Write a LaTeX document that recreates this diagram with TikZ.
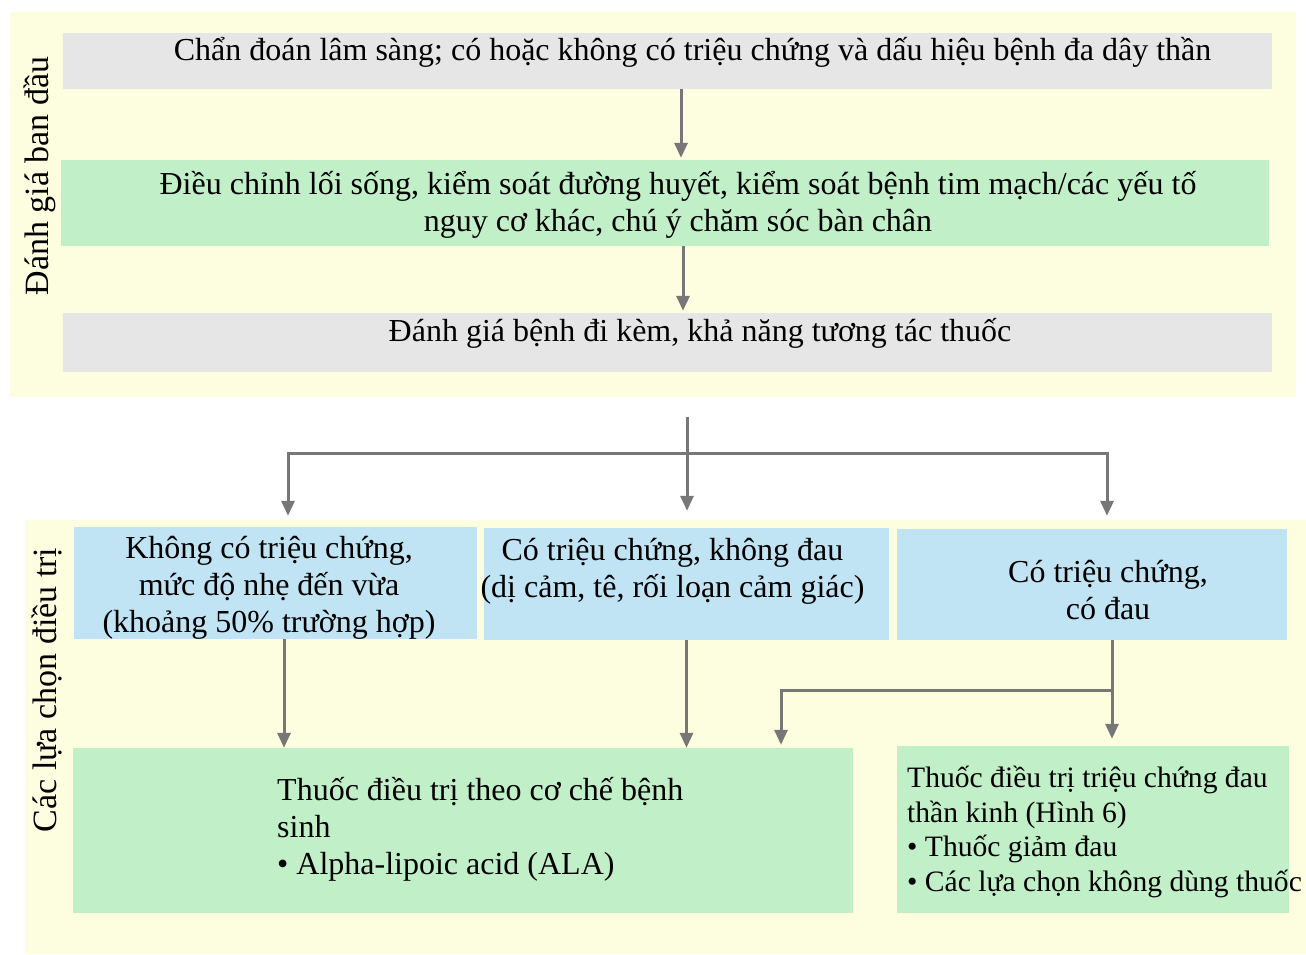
\documentclass[tikz,border=0pt]{standalone}
\usepackage{fontspec}
\setmainfont{Liberation Serif}
\usetikzlibrary{arrows.meta}
\definecolor{panelc}{HTML}{FDFDDF}
\definecolor{grayc}{HTML}{E6E6E6}
\definecolor{greenc}{HTML}{C1F0C8}
\definecolor{bluec}{HTML}{C0E4F4}
\definecolor{linec}{HTML}{777777}
\tikzset{
  panel/.style={fill=panelc, draw=none},
  box/.style={draw=none, inner sep=0pt, rectangle},
  txt/.style={inner sep=0pt, font=\fontsize{32}{37}\selectfont, align=center},
  txtl/.style={inner sep=0pt, font=\fontsize{32}{37}\selectfont, align=left},
  txte/.style={inner sep=0pt, font=\fontsize{29.6}{34.5}\selectfont, align=left},
  side/.style={inner sep=0pt, font=\fontsize{34}{40}\selectfont, rotate=90, anchor=base},
  conn/.style={draw=linec, line width=3pt},
  arr/.style={conn, -{Triangle[length=15pt, width=13pt]}},
}
\begin{document}
\begin{tikzpicture}[x=1pt, y=-1pt]
\useasboundingbox (0,0) rectangle (1306,954);
\fill[white] (0,0) rectangle (1306,954);
% panels
\node[box, panel, minimum width=1286pt, minimum height=385pt] (p1) at (653,204.5) {};
\node[box, panel, minimum width=1281pt, minimum height=434pt] (p2) at (665.5,737) {};
% top boxes
\node[box, fill=grayc, minimum width=1209pt, minimum height=56pt] (b1) at (667.5,61) {};
\node[box, fill=greenc, minimum width=1208pt, minimum height=86pt] (b2) at (665,203) {};
\node[box, fill=grayc, minimum width=1209pt, minimum height=59pt] (b3) at (667.5,342.5) {};
% bottom boxes
\node[box, fill=bluec, minimum width=403pt, minimum height=112pt] (bA) at (275.5,583) {};
\node[box, fill=bluec, minimum width=405pt, minimum height=112pt] (bB) at (686.5,584) {};
\node[box, fill=bluec, minimum width=390pt, minimum height=111pt] (bC) at (1092,584.5) {};
\node[box, fill=greenc, minimum width=780pt, minimum height=165pt] (bD) at (463,830.5) {};
\node[box, fill=greenc, minimum width=392pt, minimum height=167pt] (bE) at (1093,829.5) {};
% texts
\node[txt, anchor=base] (t1) at (692.5,60) {Chẩn đoán lâm sàng; có hoặc không có triệu chứng và dấu hiệu bệnh đa dây thần};
\node[txt] (t2) at (678,205) {Điều chỉnh lối sống, kiểm soát đường huyết, kiểm soát bệnh tim mạch/các yếu tố\\nguy cơ khác, chú ý chăm sóc bàn chân};
\node[txt, anchor=base] (t3) at (700,341) {Đánh giá bệnh đi kèm, khả năng tương tác thuốc};
\node[txt] (tA) at (269,588) {Không có triệu chứng,\\mức độ nhẹ đến vừa\\(khoảng 50\% trường hợp)};
\node[txt] (tB) at (672.5,571) {Có triệu chứng, không đau\\(dị cảm, tê, rối loạn cảm giác)};
\node[txt] (tC) at (1108,590) {Có triệu chứng,\\có đau};
\node[txtl, anchor=west] (tD) at (277,829) {Thuốc điều trị theo cơ chế bệnh\\sinh\\• Alpha-lipoic acid (ALA)};
\node[txte, anchor=west] (tE) at (907,832) {Thuốc điều trị triệu chứng đau\\thần kinh (Hình 6)\\• Thuốc giảm đau\\• Các lựa chọn không dùng thuốc};
\node[side] (s1) at (48,176) {Đánh giá ban đầu};
\node[side] (s2) at (56,690) {Các lựa chọn điều trị};
% connectors top
\draw[arr, shorten >=2pt] ([xshift=13.5pt]b1.south) -- ([xshift=13.5pt]b1.south |- b2.north);
\draw[arr, shorten >=2pt] ([xshift=18pt]b2.south) -- ([xshift=18pt]b2.south |- b3.north);
% split
\coordinate (src) at (687,417);
\coordinate (hl) at (288,453);
\coordinate (hr) at (1107,453);
\draw[conn] ([xshift=-1.5pt]hl) -- ([xshift=1.5pt]hr);
\draw[arr, shorten >=17pt] (src) -- (src |- bB.north);
\draw[arr, shorten >=11pt] (hl) -- (hl |- bA.north);
\draw[arr, shorten >=13pt] (hr) -- (hr |- bC.north);
% bottom connectors
\draw[arr] ([xshift=8.5pt]bA.south) -- ([xshift=8.5pt]bA.south |- bD.north);
\draw[arr] (bB.south) -- (bB.south |- bD.north);
\draw[arr, shorten >=7pt] ([xshift=20pt]bC.south) -- ([xshift=20pt]bC.south |- bE.north);
\coordinate (brk) at (781,690);
\draw[arr] ([xshift=20pt]bC.south |- brk) -- (brk) -- ([yshift=3pt]brk |- bD.north);
\end{tikzpicture}
\end{document}
